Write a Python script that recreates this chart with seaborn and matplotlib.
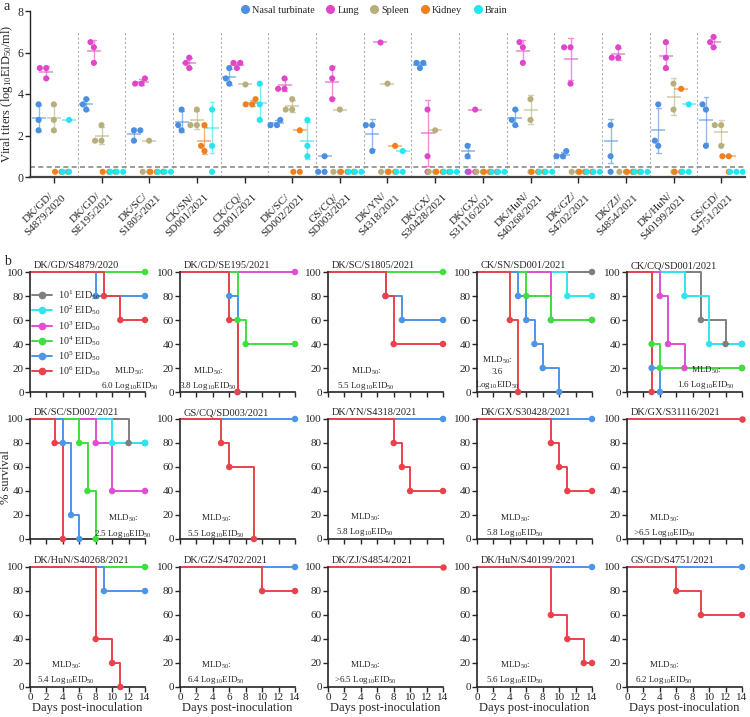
import numpy as np
import pandas as pd
import matplotlib
matplotlib.use('Agg')
import matplotlib.pyplot as plt
from matplotlib.lines import Line2D
import seaborn as sns

# ---------------- panel a: viral titers ----------------
strains = ['DK/GD/\nS4879/2020', 'DK/GD/\nSE195/2021', 'DK/SC/\nS1805/2021',
           'CK/SN/\nSD001/2021', 'CK/CQ/\nSD001/2021', 'DK/SC/\nSD002/2021',
           'GS/CQ/\nSD003/2021', 'DK/YN/\nS4318/2021', 'DK/GX/\nS30428/2021',
           'DK/GX/\nS31116/2021', 'DK/HuN/\nS40268/2021', 'DK/GZ/\nS4702/2021',
           'DK/ZJ/\nS4854/2021', 'DK/HuN/\nS40199/2021', 'GS/GD/\nS4751/2021']
organs = ['Nasal turbinate', 'Lung', 'Spleen', 'Kidney', 'Brain']
organ_colors = ['#4a8fe0', '#e046c8', '#b8b07c', '#f0801e', '#22e6f0']

LOD = 0.5    # detection limit
ND = 0.25    # plotted value for samples below detection

nasal = [[3.5, 2.75, 2.25], [3.75, 3.5, 3.25], [2.25, 2.25, 1.75], [3.25, 2.5, 2.25],
         [5.25, 4.75, 4.5], [2.75, 2.5, 2.5], [1.0, ND, ND], [2.5, 2.5, 1.25],
         [5.5, 5.5, 5.25], [1.5, 1.0, ND], [3.25, 2.75, 2.5], [1.25, 1.0, 1.0],
         [2.5, 1.0, ND], [3.5, 1.75, 1.5], [3.5, 3.25, 1.5]]
lung = [[5.25, 5.25, 4.75], [6.5, 6.25, 5.5], [4.75, 4.5, 4.5], [5.75, 5.5, 5.25],
        [5.5, 5.5, 5.25], [4.75, 4.25, 4.25], [5.25, 4.75, 3.75], [6.5],
        [3.25, 1.0, ND], [3.25, ND, ND], [6.5, 6.25, 5.5], [6.25, 6.25, 4.5],
        [6.25, 5.75, 5.75], [6.5, 5.75, 5.25], [6.75, 6.5, 6.25]]
spleen = [[3.5, 2.75, 2.25], [2.5, 1.75, 1.75], [1.75, ND, ND], [3.25, 2.5, 2.5],
          [4.5], [3.75, 3.25, 3.25], [3.25, ND, ND], [4.5, ND, ND],
          [2.25, ND, ND], [ND, ND, ND], [3.75, 2.75, ND], [ND, ND, ND],
          [ND, ND, ND], [4.5, 3.25, ND], [2.5, 2.5, 1.5]]
kidney = [[ND, ND, ND], [ND, ND, ND], [ND, ND, ND], [2.5, 1.5, 1.25],
          [3.75, 3.5, 3.5], [2.25, ND, ND], [ND, ND, ND], [1.5, ND, ND],
          [ND, ND, ND], [ND, ND, ND], [ND, ND, ND], [ND, ND, ND],
          [ND, ND, ND], [4.25, ND, ND], [1.0, 1.0, ND]]
brain = [[2.75, ND, ND], [ND, ND, ND], [ND, ND, ND], [3.25, 1.5, ND],
         [4.5, 3.5, 2.75], [2.75, 1.5, 1.0], [ND, ND, ND], [1.25, ND, ND],
         [ND, ND, ND], [ND, ND, ND], [ND, ND, ND], [ND, ND, ND],
         [ND, ND, ND], [3.5, ND, ND], [ND, ND, ND]]

# ---------------- panel b: survival ----------------
titles_b = ['DK/GD/S4879/2020', 'DK/GD/SE195/2021', 'DK/SC/S1805/2021',
            'CK/SN/SD001/2021', 'CK/CQ/SD001/2021', 'DK/SC/SD002/2021',
            'GS/CQ/SD003/2021', 'DK/YN/S4318/2021', 'DK/GX/S30428/2021',
            'DK/GX/S31116/2021', 'DK/HuN/S40268/2021', 'DK/GZ/S4702/2021',
            'DK/ZJ/S4854/2021', 'DK/HuN/S40199/2021', 'GS/GD/S4751/2021']
doses = ['10$^1$ EID$_{50}$', '10$^2$ EID$_{50}$', '10$^3$ EID$_{50}$',
         '10$^4$ EID$_{50}$', '10$^5$ EID$_{50}$', '10$^6$ EID$_{50}$']
dose_colors = ['#7f7f7f', '#2ee6f0', '#e04fd2', '#3fdf3f', '#4d95e6', '#e8434b']

# (dose exponent, days of change, % survival after change)
p01 = [(4, [], []), (5, [8], [80]), (6, [9, 11], [80, 60])]
p02 = [(3, [], []), (4, [7, 8], [60, 40]), (5, [6, 7], [80, 0]), (6, [6, 7], [60, 0])]
p03 = [(4, [], []), (5, [7, 9], [80, 60]), (6, [7, 8], [80, 40])]
p04 = [(1, [], []), (2, [11], [80]), (3, [9], [60]), (4, [6, 9], [80, 60]),
       (5, [5, 6, 7, 8, 10], [80, 60, 40, 20, 0]), (6, [4, 5], [60, 0])]
p05 = [(1, [9, 12], [60, 40]), (2, [7, 10], [80, 40]), (3, [4, 5, 7], [80, 40, 20]),
       (4, [3, 4], [40, 20]), (5, [3, 4], [20, 0]), (6, [3], [0])]
p06 = [(1, [12], [80]), (2, [10], [80]), (3, [8, 10], [80, 40]),
       (4, [6, 7, 8], [80, 40, 0]), (5, [4, 5, 6], [80, 20, 0]), (6, [3, 4], [80, 0])]
p07 = [(5, [], []), (6, [5, 6, 9], [80, 60, 0])]
p08 = [(5, [], []), (6, [8, 9, 10], [80, 60, 40])]
p09 = [(5, [], []), (6, [9, 10, 11], [80, 60, 40])]
p10 = [(6, [], [])]
p11 = [(4, [], []), (5, [9], [80]), (6, [8, 10, 11], [40, 20, 0])]
p12 = [(5, [], []), (6, [10], [80])]
p13 = [(6, [], [])]
p14 = [(5, [], []), (6, [9, 11, 13], [60, 40, 20])]
p15 = [(5, [], []), (6, [6, 9], [80, 60])]
panels = [p01, p02, p03, p04, p05, p06, p07, p08, p09, p10, p11, p12, p13, p14, p15]

mld50 = ['6.0', '3.8', '5.5', '3.6', '1.6', '2.5', '5.5', '5.8', '5.8', '>6.5',
         '5.4', '6.4', '>6.5', '5.6', '6.2']
mld_xy = [(12.1, 11), (3.4, 11), (4.6, 11), (2.5, 16), (9.6, 12), (11.3, 10.5),
          (4.4, 10.5), (4.5, 12), (4.6, 11), (4.5, 11), (4.4, 12), (4.4, 12),
          (4.5, 12), (4.6, 12), (4.5, 12)]

# ---------------- style ----------------
sns.set_style('ticks')
plt.rcParams['font.family'] = ['Liberation Serif', 'DejaVu Serif']
plt.rcParams['mathtext.fontset'] = 'custom'
plt.rcParams['mathtext.rm'] = 'Liberation Serif'
plt.rcParams['mathtext.it'] = 'Liberation Serif:italic'
plt.rcParams['mathtext.bf'] = 'Liberation Serif:bold'

W, H = 750, 717
fig = plt.figure(figsize=(W / 100, H / 100), dpi=100)

# ---------------- draw panel a ----------------
rows = []
for i, s in enumerate(strains):
    for organ, arr in zip(organs, [nasal, lung, spleen, kidney, brain]):
        for v in arr[i]:
            rows.append((s, organ, v))
titers = pd.DataFrame(rows, columns=['strain', 'organ', 'titer'])

ax_a = fig.add_axes([30 / W, 1 - 177 / H, 715 / W, 166 / H])
ax_a.vlines(np.arange(len(strains) - 1) + 0.5, 0, 7, colors='#b0b0b0',
            linestyles=(0, (2, 2)), linewidth=0.8, zorder=0)
ax_a.axhline(LOD, color='#8a8a8a', ls=(0, (3, 2)), lw=1.2, zorder=1)

detected = titers[titers.titer > LOD]
sns.pointplot(data=detected, x='strain', y='titer', hue='organ', order=strains,
              hue_order=organs, palette=organ_colors, dodge=0.64, errorbar='sd',
              markers='_', markersize=10, markeredgewidth=1.2, linestyle='none',
              capsize=0.1, linewidth=1.0, alpha=0.6, legend=False, ax=ax_a)
sns.swarmplot(data=titers, x='strain', y='titer', hue='organ', order=strains,
              hue_order=organs, palette=organ_colors, dodge=True, size=4.4,
              linewidth=0, legend=False, warn_thresh=1, ax=ax_a, zorder=3)

ax_a.set_xlim(-0.5, len(strains) - 0.5)
ax_a.set_ylim(0, 8)
ax_a.set_yticks([0, 2, 4, 6, 8])
ax_a.set_xlabel('')
ax_a.set_ylabel('Viral titers (log$_{10}$EID$_{50}$/ml)', fontsize=9, labelpad=2)
ax_a.set_xticks(range(len(strains)))
ax_a.set_xticklabels(strains, rotation=45, ha='right', rotation_mode='anchor',
                     multialignment='center', fontsize=8)
ax_a.tick_params(axis='y', labelsize=8.5, length=3.5, width=1, pad=1)
ax_a.tick_params(axis='x', length=4, width=1, pad=2)
ax_a.spines['bottom'].set_linewidth(1.6)
ax_a.spines['bottom'].set_color('#444444')
ax_a.spines['left'].set_linewidth(1.0)
sns.despine(ax=ax_a)

handles = [Line2D([0], [0], marker='o', ls='none', color=c, markersize=5.5)
           for c in organ_colors]
fig.legend(handles, organs, loc='center', bbox_to_anchor=(373 / W, 1 - 10 / H),
           ncol=5, frameon=False, fontsize=7.4, handletextpad=0.1,
           handlelength=1.2, columnspacing=0.9, borderaxespad=0)

# ---------------- draw panel b ----------------
col_left = [30, 180, 328, 477, 627]
row_top = [272, 419, 567]
aw, ah = 115, 120
palette = dict(zip(doses, dose_colors))

for k, curves in enumerate(panels):
    r, c = divmod(k, 5)
    ax = fig.add_axes([col_left[c] / W, 1 - (row_top[r] + ah) / H, aw / W, ah / H])

    line_rows, pt_rows = [], []
    for dose, days, pcts in curves:
        xs = [0] + days
        ys = [100] + pcts
        if ys[-1] > 0:
            xs.append(14)
            ys.append(ys[-1])
        for j, (x, y) in enumerate(zip(xs, ys)):
            line_rows.append((doses[dose - 1], x, y))
            if j > 0:
                pt_rows.append((doses[dose - 1], x, y))
    lines = pd.DataFrame(line_rows, columns=['dose', 'day', 'pct'])
    pts = pd.DataFrame(pt_rows, columns=['dose', 'day', 'pct'])
    present = [d for d in doses if d in set(lines.dose)]

    sns.lineplot(data=lines, x='day', y='pct', hue='dose', hue_order=present,
                 palette=palette, estimator=None, drawstyle='steps-post',
                 linewidth=1.4, legend=False, ax=ax, clip_on=False)
    sns.scatterplot(data=pts, x='day', y='pct', hue='dose', hue_order=present,
                    palette=palette, s=22, linewidth=0, legend=False, ax=ax,
                    clip_on=False, zorder=3)

    ax.set_xlim(0, 14)
    ax.set_ylim(0, 100)
    ax.set_xticks(range(0, 15, 2))
    ax.set_yticks(range(0, 101, 20))
    ax.tick_params(length=3.5, width=1, labelsize=8, pad=1)
    for sp in ['left', 'bottom']:
        ax.spines[sp].set_linewidth(1.2)
    sns.despine(ax=ax)
    ax.set_ylabel('')
    if r == 2:
        ax.set_xlabel('Days post-inoculation', fontsize=9, labelpad=0)
    else:
        ax.set_xlabel('')
        ax.set_xticklabels([])

    ax.text(0.03, 1.015, titles_b[k], transform=ax.transAxes, ha='left',
            va='bottom', fontsize=7.5)

    if k == 3:
        txt = 'MLD$_{50}$:\n' + mld50[k] + '\nLog$_{10}$EID$_{50}$'
    else:
        txt = 'MLD$_{50}$:\n' + mld50[k] + ' Log$_{10}$EID$_{50}$'
    ax.text(mld_xy[k][0], mld_xy[k][1], txt, ha='center', va='center',
            fontsize=6.5, linespacing=1.4)

    if k == 0:
        hd = [Line2D([0], [0], color=col, marker='o', markersize=4.5, lw=1.4)
              for col in dose_colors]
        ax.legend(hd, doses, loc='center left', bbox_to_anchor=(0.0, 0.49),
                  frameon=False, fontsize=7.3, handlelength=2.0,
                  handletextpad=0.6, labelspacing=0.12, borderaxespad=0.1,
                  borderpad=0.1)

fig.text(6 / W, 1 - (419 + 58) / H, '% survival', rotation=90, ha='center',
         va='center', fontsize=9)
fig.text(4 / W, 1 - 7 / H, 'a', fontsize=10, va='center')
fig.text(4 / W, 1 - 262 / H, 'b', fontsize=10, va='center')

fig.savefig('out.png', dpi=100)
